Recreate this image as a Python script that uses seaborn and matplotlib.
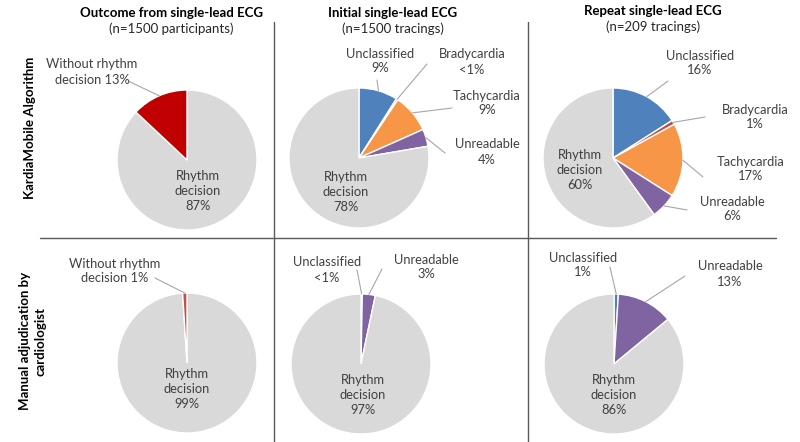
import matplotlib
matplotlib.use("Agg")
import matplotlib.pyplot as plt
import numpy as np
import seaborn as sns

W, H = 800, 442
R = 70  # pie radius in pixels

col_titles = ["Outcome from single-lead ECG", "Initial single-lead ECG", "Repeat single-lead ECG"]
col_subtitles = ["(n=1500 participants)", "(n=1500 tracings)", "(n=209 tracings)"]
row_labels = ["KardiaMobile Algorithm", "Manual adjudication by\ncardiologist"]

# slices go clockwise from 12 o'clock
algo_outcome_cats = ["Rhythm decision", "Without rhythm decision"]
algo_outcome_vals = [87, 13]
algo_initial_cats = ["Unclassified", "Bradycardia", "Tachycardia", "Unreadable", "Rhythm decision"]
algo_initial_vals = [9, 0.4, 9, 4, 78]
algo_repeat_cats = ["Unclassified", "Bradycardia", "Tachycardia", "Unreadable", "Rhythm decision"]
algo_repeat_vals = [16, 1, 17, 6, 60]
manual_outcome_cats = ["Rhythm decision", "Without rhythm decision"]
manual_outcome_vals = [99, 1]
manual_initial_cats = ["Unclassified", "Unreadable", "Rhythm decision"]
manual_initial_vals = [0.3, 3, 97]
manual_repeat_cats = ["Unclassified", "Unreadable", "Rhythm decision"]
manual_repeat_vals = [1, 13, 86]

palette = {
    "Rhythm decision": "#D9D9D9",
    "Unclassified": "#4F81BD",
    "Bradycardia": "#C0504D",
    "Tachycardia": "#F79646",
    "Unreadable": "#8064A2",
}


def pct_text(v):
    return "<1%" if v < 1 else f"{v:.0f}%"


def label_text(cat, v):
    if cat == "Rhythm decision":
        return f"Rhythm\ndecision\n{pct_text(v)}"
    if cat == "Without rhythm decision":
        return f"Without rhythm\ndecision {pct_text(v)}"
    return f"{cat}\n{pct_text(v)}"


# layout: pie centre (px) and per-label (text centre, leader start)
panels = [
    dict(cats=algo_outcome_cats, vals=algo_outcome_vals, center=(187, 160), miss="#C00000",
         lab={"Rhythm decision": ((198, 191), None),
              "Without rhythm decision": ((92, 72), (128, 81))}),
    dict(cats=algo_initial_cats, vals=algo_initial_vals, center=(359, 158),
         lab={"Unclassified": ((380, 61), (377, 80)),
              "Bradycardia": ((472, 62), (427, 64)),
              "Tachycardia": ((487, 103), (452, 108)),
              "Unreadable": ((487, 152), (445, 153)),
              "Rhythm decision": ((346, 192), None)}),
    dict(cats=algo_repeat_cats, vals=algo_repeat_vals, center=(613, 158),
         lab={"Unclassified": ((700, 63), (668, 81)),
              "Bradycardia": ((755, 117), (705, 117)),
              "Tachycardia": ((751, 169), (703, 177)),
              "Unreadable": ((732, 209), (687, 210)),
              "Rhythm decision": ((580, 170), None)}),
    dict(cats=manual_outcome_cats, vals=manual_outcome_vals, center=(187, 363), miss="#C0504D",
         lab={"Rhythm decision": ((187, 389), None),
              "Without rhythm decision": ((115, 271), (155, 278))}),
    dict(cats=manual_initial_cats, vals=manual_initial_vals, center=(361, 364),
         lab={"Unclassified": ((327, 270), (357, 270)),
              "Unreadable": ((426, 267), (382, 269)),
              "Rhythm decision": ((363, 395), None)}),
    dict(cats=manual_repeat_cats, vals=manual_repeat_vals, center=(614, 364),
         lab={"Unclassified": ((583, 265), (610, 267)),
              "Unreadable": ((730, 274), (685, 276)),
              "Rhythm decision": ((614, 395), None)}),
]

sns.set_theme(style="white")
plt.rcParams['font.family'] = ['Lato', 'DejaVu Sans']

fig = plt.figure(figsize=(W / 100, H / 100), dpi=100)
fig.patch.set_facecolor("white")

over = fig.add_axes([0, 0, 1, 1], zorder=5)
over.set_xlim(0, W)
over.set_ylim(H, 0)
over.axis("off")
over.patch.set_alpha(0)

lab_fs = 9.3
lab_col = "#404040"

for p in panels:
    cx, cy = p["center"]
    ax = fig.add_axes([(cx - R) / W, 1 - (cy + R) / H, 2 * R / W, 2 * R / H])
    cols = [p.get("miss") if c == "Without rhythm decision" else palette[c] for c in p["cats"]]
    wedges, _ = ax.pie(p["vals"], colors=cols, startangle=90, counterclock=False, radius=1,
                       wedgeprops=dict(edgecolor="white", linewidth=1))
    ax.set_xlim(-1, 1)
    ax.set_ylim(-1, 1)
    ax.axis("off")
    for w, cat, v in zip(wedges, p["cats"], p["vals"]):
        (tx, ty), start = p["lab"][cat]
        over.text(tx, ty, label_text(cat, v), ha="center", va="center", fontsize=lab_fs,
                  color=lab_col, linespacing=1.3)
        if start is not None:
            mid = np.deg2rad((w.theta1 + w.theta2) / 2)
            ax_pt = (cx + R * np.cos(mid), cy - R * np.sin(mid))
            over.plot([start[0], ax_pt[0]], [start[1], ax_pt[1]], color="#A6A6A6", lw=0.8)

# column titles
title_x = [171, 393, 653]
title_y = [13, 13, 11]
for x, y, t, s in zip(title_x, title_y, col_titles, col_subtitles):
    over.text(x, y, t, ha="center", va="center", fontsize=9.5, fontweight="bold", color="black")
    over.text(x, y + 16, s, ha="center", va="center", fontsize=9.5, color="#262626")

# row labels
over.text(30, 128, row_labels[0], rotation=90, ha="center", va="center", fontsize=9.5,
          fontweight="bold", color="black")
over.text(33, 341, row_labels[1], rotation=90, ha="center", va="center", fontsize=9.5,
          fontweight="bold", color="black", linespacing=1.3, multialignment="center")

# grid dividers
over.plot([274, 274], [22, H], color="#595959", lw=1)
over.plot([528, 528], [22, H], color="#595959", lw=1)
over.plot([40, 776], [238, 238], color="#595959", lw=1)

fig.savefig("out.png", dpi=100, facecolor="white")
